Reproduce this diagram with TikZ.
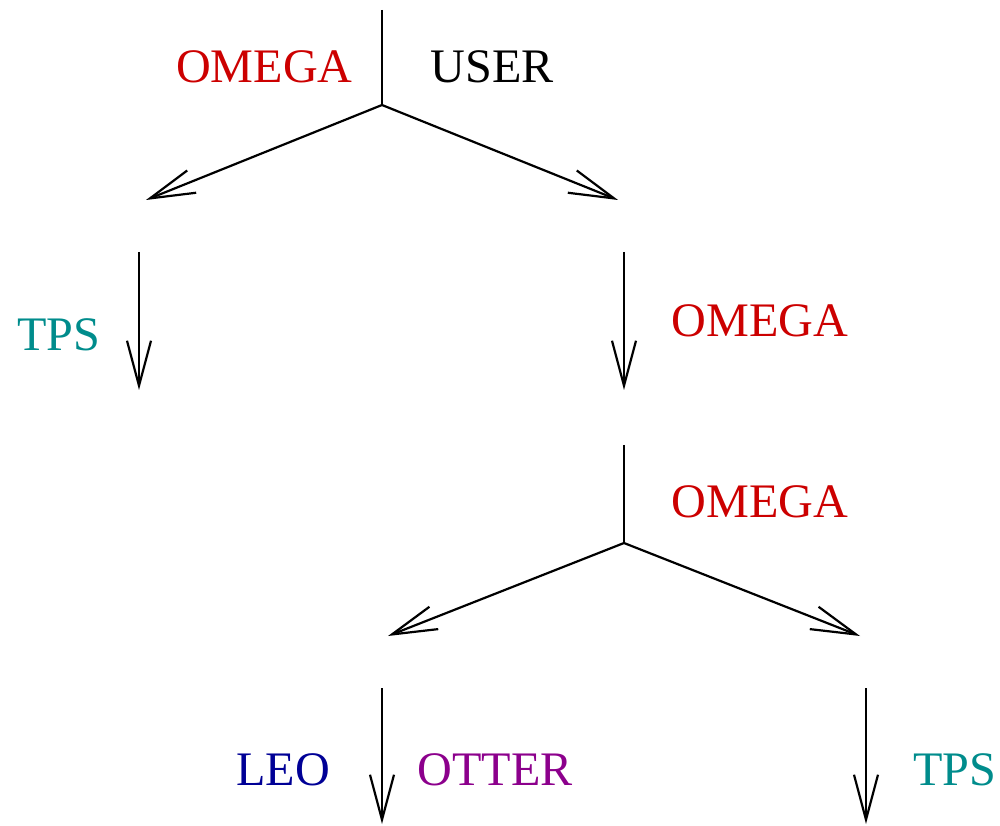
\documentclass[tikz,border=0pt]{standalone}
\usepackage{fontspec}
\setmainfont{Liberation Serif}
\usepackage{tikz}
\usetikzlibrary{arrows.meta,positioning,calc}

\definecolor{omegared}{RGB}{204,0,0}
\definecolor{tpsteal}{RGB}{0,140,140}
\definecolor{leoblue}{RGB}{0,0,150}
\definecolor{otterpurple}{RGB}{140,0,140}

\begin{document}
\begin{tikzpicture}[
    line/.style={draw, line width=1.25pt},
    arrow/.style={line, -{Straight Barb[length=9mm, width=4.8mm, line width=1.25pt]}},
    label/.style={inner sep=0pt, font=\fontsize{27.4}{32}\selectfont}
]
\useasboundingbox (0,0) rectangle (20,-16.52);

% First split
\coordinate (top) at (7.64,-0.2);
\coordinate (splitA) at (7.64,-2.1);
\coordinate (leftA) at (2.92,-4.0);
\coordinate (rightA) at (12.36,-4.0);

\draw[line] (top) -- (splitA);
\draw[arrow] (splitA) -- (leftA);
\draw[arrow] (splitA) -- (rightA);

\node[label, omegared] (omegaTop) at (5.29,-1.34) {OMEGA};
\node[label] (user) at (9.84,-1.34) {USER};

% Left branch
\coordinate (tpsStart) at (2.78,-5.04);
\coordinate (tpsEnd) at (2.78,-7.8);
\draw[arrow] (tpsStart) -- (tpsEnd);
\node[label, tpsteal] (tpsLeft) at (1.18,-6.7) {TPS};

% Right branch
\coordinate (omegaStart) at (12.48,-5.04);
\coordinate (omegaEnd) at (12.48,-7.8);
\draw[arrow] (omegaStart) -- (omegaEnd);
\node[label, omegared] (omegaMid) at (15.2,-6.42) {OMEGA};

% Second split
\coordinate (topB) at (12.48,-8.9);
\coordinate (splitB) at (12.48,-10.86);
\coordinate (leftB) at (7.76,-12.72);
\coordinate (rightB) at (17.2,-12.72);

\draw[line] (topB) -- (splitB);
\draw[arrow] (splitB) -- (leftB);
\draw[arrow] (splitB) -- (rightB);
\node[label, omegared] (omegaLow) at (15.2,-10.04) {OMEGA};

% Bottom left branch
\coordinate (leoStart) at (7.64,-13.76);
\coordinate (leoEnd) at (7.64,-16.48);
\draw[arrow] (leoStart) -- (leoEnd);
\node[label, leoblue] (leo) at (5.66,-15.4) {LEO};
\node[label, otterpurple] (otter) at (9.9,-15.4) {OTTER};

% Bottom right branch
\coordinate (tpsStartB) at (17.32,-13.76);
\coordinate (tpsEndB) at (17.32,-16.48);
\draw[arrow] (tpsStartB) -- (tpsEndB);
\node[label, tpsteal] (tpsRight) at (19.1,-15.4) {TPS};

\end{tikzpicture}
\end{document}
